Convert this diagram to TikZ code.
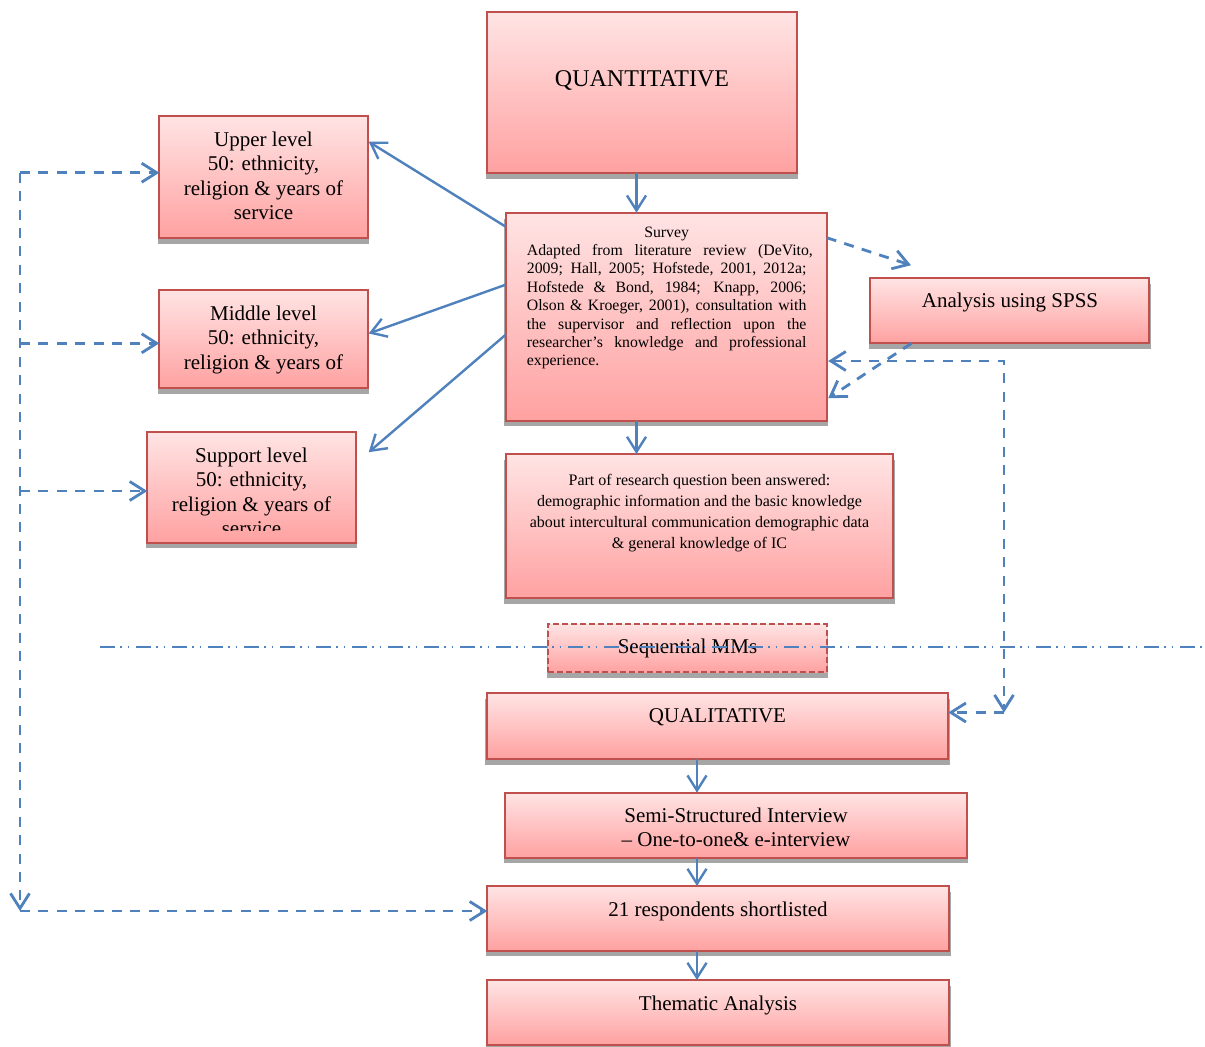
\documentclass[tikz,border=0pt]{standalone}
\usepackage{fontspec}
\setmainfont{Liberation Serif}
\usetikzlibrary{arrows.meta,calc}

\definecolor{edgeblue}{HTML}{4F81BD}
\definecolor{boxred}{HTML}{C0504D}
\definecolor{pinktop}{HTML}{FFE4E4}
\definecolor{pinkbot}{HTML}{FFA1A1}
\definecolor{shadowgray}{HTML}{A6A6A6}

\tikzset{
  >={Straight Barb[length=15pt,width=19pt]},
  box/.style={draw=boxred, line width=1.8pt, top color=pinktop, bottom color=pinkbot,
              inner sep=0pt, outer sep=0pt},
  dashbox/.style={box, dash pattern=on 6pt off 3pt},
  txt/.style={inner sep=0pt, align=center, font=\fontsize{21}{24.4}\selectfont},
  small/.style={font=\fontsize{15.8}{18.35}\selectfont},
  link/.style={draw=edgeblue, line width=2.4pt, ->},
  dlink/.style={link, line width=2.8pt, dash pattern=on 10pt off 8.4pt},
  divider/.style={draw=edgeblue, line width=2pt,
                  dash pattern=on 15pt off 5pt on 1.5pt off 6pt on 1.5pt off 7pt},
}

% a box with its drop shadow: [style] name x1 y1 x2 y2 (y grows downwards)
\newcommand\mkpanel[6][]{%
  \fill[shadowgray] (#3-1.5,#4+6) rectangle (#5+1.5,#6+5.5);
  \node[box,#1,minimum width={#5-#3},minimum height={#6-#4}] (#2)
        at ({(#3+#5)/2},{(#4+#6)/2}) {};
}
% one justified line of the survey description
\newcommand\jline[1]{\makebox[286pt][l]{\makebox[279.5pt][s]{#1}}}

\begin{document}
\begin{tikzpicture}[x=1pt,y=-1pt]
\useasboundingbox (0,0) rectangle (1205,1047);
\fill[white] (0,0) rectangle (1205,1047);

% ---- boxes ----
\mkpanel{quant}{487.3}{11.7}{796.7}{173.3}
\mkpanel{upper}{159.3}{115.7}{367.7}{238.3}
\mkpanel{middle}{159.3}{290}{367.7}{388.3}
\mkpanel{support}{147.3}{431.7}{355.7}{542.7}
\mkpanel{survey}{505.7}{212.7}{826.7}{420.7}
\mkpanel{spss}{870}{277.7}{1149.3}{343.3}
\mkpanel{part}{505.7}{454}{893.3}{598.3}
\mkpanel[dashbox]{seq}{548.3}{624}{826.7}{672.3}
\mkpanel{qual}{486.7}{693.3}{948.3}{759}
\mkpanel{semi}{505}{792.7}{966.7}{857.7}
\mkpanel{resp}{487.3}{886}{949}{950.7}
\mkpanel{thematic}{487.3}{980}{949}{1045}

% ---- texts (base anchor = baseline of the last line) ----
\node[txt, anchor=base, font=\fontsize{24}{28}\selectfont] (quant-t) at (642,86.7) {QUANTITATIVE};
\node[txt, anchor=base] (upper-t) at (263.5,219.6)
  {Upper level\\50: ethnicity,\\religion \& years of\\service};
\begin{scope}
  \clip (159.3,290) rectangle (367.7,375.6);
  \node[txt, anchor=base] (middle-t) at (263.5,393.5)
    {Middle level\\50: ethnicity,\\religion \& years of\\service};
\end{scope}
\begin{scope}
  \clip (147.3,431.7) rectangle (355.7,530);
  \node[txt, anchor=base] (support-t) at (251.5,535.5)
    {Support level\\50: ethnicity,\\religion \& years of\\service};
\end{scope}
\node[txt, small, align=left, anchor=base west] (survey-t) at (526.7,365.7)
  {\makebox[286pt][l]{\makebox[279.5pt][c]{Survey}}\\
   \makebox[286pt][s]{Adapted from literature review (DeVito,}\\
   \jline{2009; Hall, 2005; Hofstede, 2001, 2012a;}\\
   \jline{Hofstede \& Bond, 1984; Knapp, 2006;}\\
   \jline{Olson \& Kroeger, 2001), consultation with}\\
   \jline{the supervisor and reflection upon the}\\
   \jline{researcher’s knowledge and professional}\\
   \makebox[286pt][l]{experience.}};
\node[txt, anchor=base] (spss-t) at (1010,307.7) {Analysis using SPSS};
\node[txt, anchor=base, font=\fontsize{16}{21.3}\selectfont] (part-t) at (699.5,548.9)
  {Part of research question been answered:\\
   demographic information and the basic knowledge\\
   about intercultural communication demographic data\\
   \& general knowledge of IC};
\node[txt, anchor=base] (seq-t) at (687.5,653.3) {Sequential MMs};
\node[txt, anchor=base] (qual-t) at (717.5,722.7) {QUALITATIVE};
\node[txt, anchor=base] (semi-t) at (736,846.7)
  {Semi-Structured Interview\\\textendash{} One-to-one\& e-interview};
\node[txt, anchor=base] (resp-t) at (718,916) {21 respondents shortlisted};
\node[txt, anchor=base] (thematic-t) at (718,1010.7) {Thematic Analysis};

% ---- connector guides ----
\coordinate (axU) at (636.5,0);
\coordinate (axL) at (697,0);
\coordinate (lt) at (20,172.7);
\coordinate (lm) at (20,343.3);
\coordinate (ls) at (20,491);
\coordinate (lb) at (20,911);
\coordinate (qturn) at (1004,712.5);
\coordinate (divL) at (100,646.7);
\coordinate (divR) at (1205,646.7);

% ---- solid connectors ----
\draw[link] (quant.south -| axU) -- (survey.north -| axU);
\draw[link] (survey.south -| axU) -- (part.north -| axU);
\draw[link] ([yshift=-14pt]survey.north west) -- ([xshift=1pt,yshift=-26pt]upper.north east);
\draw[link] ([yshift=-72pt]survey.north west) -- ([xshift=1pt,yshift=-43.5pt]middle.north east);
\draw[link] ([yshift=-122pt]survey.north west) -- ([xshift=13pt,yshift=-20.5pt]support.north east);
\draw[link] (qual.south -| axL) -- (semi.north -| axL);
\draw[link] (semi.south -| axL) -- (resp.north -| axL);
\draw[link] (resp.south -| axL) -- (thematic.north -| axL);

% ---- dashed connectors ----
\draw[dlink] ([yshift=-25pt]survey.north east) -- ([xshift=41pt,yshift=12.5pt]spss.north west);
\draw[dlink] ([xshift=41.5pt]spss.south west) -- ([xshift=1.5pt,yshift=22.5pt]survey.south east);
\draw[dlink,<->] ([xshift=1.5pt,yshift=-148.3pt]survey.north east) -| (qturn);
\draw[dlink] (qturn) -- (qual.east |- qturn);
\draw[dlink] (lt) -- (lb);
\draw[dlink] (lt) -- (upper.west |- lt);
\draw[dlink] (lm) -- (middle.west |- lm);
\draw[dlink] (ls) -- (support.west |- ls);
\draw[dlink] (lb) -- (resp.west |- lb);

% ---- phase divider ----
\draw[divider] (divL) -- (divR);
\end{tikzpicture}
\end{document}
